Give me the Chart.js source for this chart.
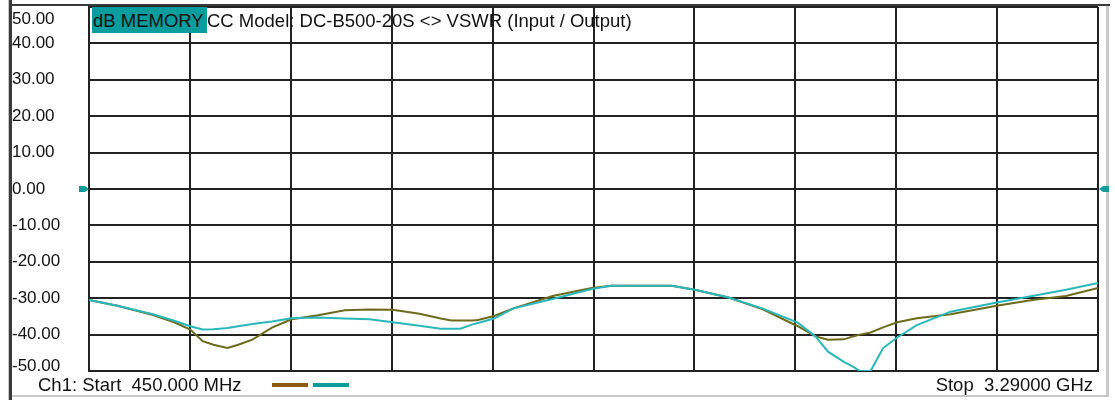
<!DOCTYPE html>
<html>
<head>
<meta charset="utf-8">
<script src="https://cdn.jsdelivr.net/npm/chart.js@4/dist/chart.umd.min.js"></script>
<style>
  body { margin: 0; background: #fff; }
  #wrap { position: relative; width: 1115px; height: 400px; font-family: "Liberation Sans", Arial, sans-serif; }
  #c { position: absolute; left: 0; top: 0; }
  .txt { position: absolute; font-size: 18.5px; line-height: 18px; color: #111; white-space: pre; }
  #memTag { left: 92px; top: 7px; width: 115px; height: 26px; padding: 5px 0 0 1px; box-sizing: border-box; background: #0a9d9d; overflow: hidden; }
  #title { left: 207px; top: 12px; }
  #start { left: 38px; top: 376px; }
  #stop { right: 22px; top: 376px; }
  .key { position: absolute; top: 383px; width: 36px; height: 4px; }
</style>
</head>
<body>
<div id="wrap">
  <canvas id="c" width="1115" height="400"></canvas>
  <div class="txt" id="memTag">dB MEMORY</div>
  <div class="txt" id="title">CC Model: DC-B500-20S &lt;&gt; VSWR (Input / Output)</div>
  <div class="txt" id="start">Ch1: Start  450.000 MHz</div>
  <div class="txt" id="stop">Stop  3.29000 GHz</div>
  <div class="key" style="left:272px;background:#8a5a10"></div>
  <div class="key" style="left:313px;background:#109a9a"></div>
</div>
<script>
const $ = id => document.getElementById(id);

// sweep 450 MHz .. 3.29 GHz, 10 divisions
const startMHz = 450, stopMHz = 3290, divMHz = 284;
const yMin = -50, yMax = 50, yStep = 10;

const freqs = [450, 530, 630, 690, 735, 770, 800, 840, 870, 910, 965, 1020, 1095, 1170, 1240,
  1305, 1380, 1440, 1470, 1495, 1530, 1545, 1590, 1645, 1755, 1865, 1920, 2000, 2090, 2155,
  2250, 2345, 2445, 2495, 2530, 2575, 2600, 2620, 2650, 2685, 2725, 2780, 2875, 3005, 3105, 3200, 3290];

// memory trace (olive)
const memoryDb = [-30.5, -32.1, -34.6, -36.6, -38.6, -41.8, -42.8, -43.7, -42.8, -41.4, -38.1, -35.8, -34.7, -33.3, -33.1,
  -33.2, -34.3, -35.6, -36.1, -36.1, -36.1, -36.0, -34.9, -32.8, -29.4, -27.2, -26.6, -26.6, -26.6, -27.7,
  -29.8, -33.0, -37.7, -40.5, -41.4, -41.3, -40.5, -40.0, -39.4, -38.0, -36.6, -35.5, -34.4, -32.1, -30.5, -29.4, -27.2];

// live trace (teal)
const dataDb = [-30.5, -32.1, -34.4, -36.2, -37.7, -38.6, -38.5, -38.2, -37.7, -37.1, -36.4, -35.5, -35.3, -35.6, -35.8,
  -36.6, -37.6, -38.4, -38.4, -38.4, -37.2, -36.8, -35.6, -32.8, -30.2, -27.5, -26.6, -26.6, -26.6, -27.7,
  -29.8, -32.8, -36.7, -40.5, -44.7, -47.5, -48.8, -50.0, -50.0, -43.7, -40.8, -37.4, -33.7, -31.2, -29.4, -27.7, -25.8];

const pts = arr => freqs.map((f, i) => ({ x: f, y: arr[i] }));

// window frame + reference markers at 0 dB
const framePlugin = {
  id: "frame",
  beforeDraw(chart) {
    const ctx = chart.ctx;
    ctx.save();
    ctx.fillStyle = "#fff";
    ctx.fillRect(0, 0, chart.width, chart.height);
    ctx.fillStyle = "#c8c8c8";
    ctx.fillRect(8, 0, 1, 400);
    ctx.fillRect(1106, 4, 3, 392);
    ctx.fillRect(10, 395, 1099, 2);
    ctx.fillStyle = "#3a3a3a";
    ctx.fillRect(9, 0, 3, 400);
    ctx.fillRect(10, 4, 1100, 2);
    ctx.restore();
  },
  afterDraw(chart) {
    const ctx = chart.ctx;
    const y = chart.scales.y.getPixelForValue(0);
    const a = chart.chartArea;
    ctx.save();
    ctx.fillStyle = "#119c9c";
    ctx.beginPath();
    ctx.moveTo(a.left - 10, y - 3); ctx.lineTo(a.left - 4, y - 3); ctx.lineTo(a.left, y);
    ctx.lineTo(a.left - 4, y + 3); ctx.lineTo(a.left - 10, y + 3); ctx.closePath(); ctx.fill();
    ctx.beginPath();
    ctx.moveTo(a.right + 11, y - 3); ctx.lineTo(a.right + 5, y - 3); ctx.lineTo(a.right + 1, y);
    ctx.lineTo(a.right + 5, y + 3); ctx.lineTo(a.right + 11, y + 3); ctx.closePath(); ctx.fill();
    ctx.restore();
  },
};

const tickFont = ctx => {
  const v = ctx.tick && ctx.tick.value;
  const lh = v === yMax ? 1.4 : v === yMin ? 0.6 : 1.2;
  return { family: "'Liberation Sans', Arial, sans-serif", size: 17, lineHeight: lh };
};

new Chart($("c").getContext("2d"), {
  type: "line",
  data: {
    datasets: [
      { label: "Data", data: pts(dataDb), borderColor: "#2ab7ba", borderWidth: 2,
        pointRadius: 0, tension: 0, order: 0 },
      { label: "Memory", data: pts(memoryDb), borderColor: "#6e6a1c", borderWidth: 2,
        pointRadius: 0, tension: 0, order: 1 },
    ],
  },
  options: {
    responsive: false,
    animation: false,
    layout: { padding: { left: 12, top: 7, right: 17, bottom: 29 } },
    plugins: { legend: { display: false }, tooltip: { enabled: false } },
    scales: {
      x: {
        type: "linear",
        min: startMHz, max: stopMHz,
        ticks: { display: false, stepSize: divMHz },
        grid: { color: "#222", lineWidth: 2, drawTicks: false },
        border: { color: "#222", width: 2 },
        afterFit: s => { s.height = 0; },
      },
      y: {
        min: yMin, max: yMax,
        ticks: {
          stepSize: yStep,
          autoSkip: false,
          crossAlign: "far",
          color: "#111",
          font: tickFont,
          // end labels are nudged inside the plot like the analyzer does
          callback: v => v === yMax ? ["", v.toFixed(2)] : v === yMin ? [v.toFixed(2), ""] : v.toFixed(2),
        },
        grid: { color: "#222", lineWidth: 2, drawTicks: false },
        border: { color: "#222", width: 2 },
        afterFit: s => { s.width = 77; s.paddingTop = 0; s.paddingBottom = 0; },
      },
    },
  },
  plugins: [framePlugin],
});
</script>
</body>
</html>
